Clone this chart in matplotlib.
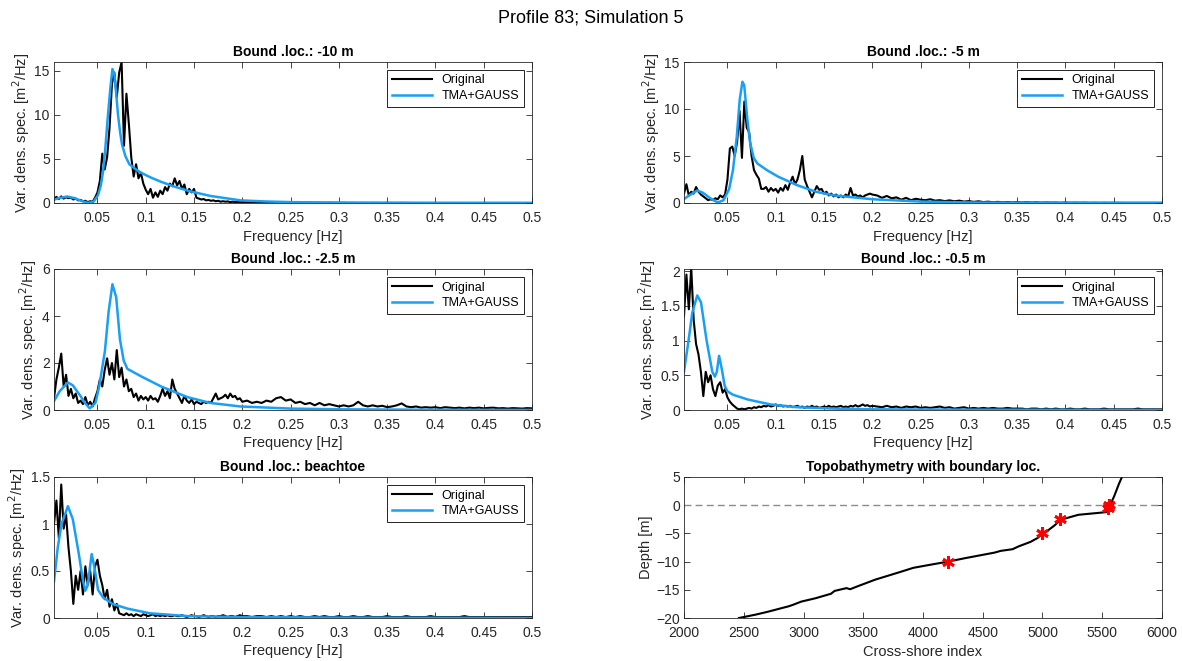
import numpy as np
import matplotlib
matplotlib.use("Agg")
import matplotlib.pyplot as plt
from matplotlib.ticker import FormatStrFormatter

plt.rcParams['font.family'] = ['Liberation Sans', 'DejaVu Sans']

# frequency grid of the measured spectra (fine up to 0.2 Hz, coarser tail)
freq_fine = np.round(np.arange(0.005, 0.20001, 0.0025), 4)
freq_tail = np.round(np.arange(0.205, 0.50001, 0.005), 3)
freq_orig = np.concatenate([freq_fine, freq_tail])

# ---- Bound .loc.: -10 m
orig_10 = [0.4, 0.7, 0.45, 0.75, 0.5, 0.65, 0.55, 0.6, 0.4, 0.5,
           0.3, 0.35, 0.2, 0.25, 0.1, 0.2, 0.15, 0.6, 1.2, 2.5,
           5.6, 3.8, 5.2, 8.5, 13.5, 14.8, 12.0, 14.8, 16.0, 6.5,
           12.4, 9.0, 5.2, 3.0, 4.4, 2.8, 3.4, 2.2, 1.5, 1.0,
           1.6, 0.6, 1.2, 0.7, 1.4, 1.0, 1.8, 1.4, 2.2, 1.9,
           2.8, 2.0, 2.5, 1.6, 2.1, 1.0, 1.6, 1.2, 1.6, 0.6,
           0.5, 0.4, 0.45, 0.3, 0.35, 0.25, 0.3, 0.2, 0.25, 0.15,
           0.2, 0.15, 0.18, 0.1, 0.15, 0.1, 0.12, 0.08, 0.1,
           0.08, 0.06, 0.07, 0.05, 0.06, 0.04, 0.05, 0.04, 0.05, 0.03,
           0.04, 0.03, 0.04, 0.03, 0.02, 0.03, 0.02, 0.03, 0.02, 0.02,
           0.03, 0.01, 0.02, 0.01, 0.02, 0.01, 0.02, 0.01, 0.01, 0.02,
           0.01, 0.01, 0.02, 0.01, 0.01, 0.01, 0.02, 0.01, 0.01, 0.01,
           0.01, 0.01, 0.01, 0.02, 0.01, 0.01, 0.01, 0.01, 0.01, 0.01,
           0.01, 0.01, 0.01, 0.01, 0.01, 0.01, 0.01, 0.01, 0.01, 0.01]
fit_f_10 = [0.005, 0.01, 0.0187, 0.026, 0.033, 0.040, 0.046, 0.0506, 0.0535, 0.0557,
            0.058, 0.0605, 0.0635, 0.0655, 0.0675, 0.0695, 0.0713, 0.0735, 0.0755, 0.079,
            0.083, 0.09, 0.0959, 0.105, 0.116, 0.13, 0.145, 0.167, 0.198, 0.225,
            0.25, 0.3, 0.35, 0.4, 0.45, 0.5]
fit_s_10 = [0.37, 0.55, 0.74, 0.56, 0.25, 0.02, 0.15, 0.9, 2.0, 3.5,
            6.0, 9.5, 13.2, 15.2, 14.6, 12.3, 10.0, 8.0, 6.6, 5.3,
            4.4, 3.8, 3.4, 2.9, 2.4, 1.85, 1.35, 0.8, 0.3, 0.17,
            0.1, 0.04, 0.02, 0.01, 0.005, 0.003]

# ---- Bound .loc.: -5 m
orig_5 = [1.0, 2.0, 0.8, 1.2, 1.0, 1.7, 1.2, 0.9, 0.7, 0.5,
          0.3, 0.4, 0.3, 0.5, 0.4, 0.8, 0.6, 0.9, 2.5, 5.8,
          6.0, 5.0, 6.5, 9.8, 4.8, 10.8, 8.0, 7.5, 5.0, 3.5,
          3.0, 2.6, 1.5, 1.5, 1.7, 1.2, 1.6, 1.3, 1.5, 1.1,
          1.6, 1.3, 1.9, 1.4, 2.2, 2.8, 2.0, 2.5, 3.5, 5.0,
          2.5, 1.8, 1.2, 0.6, 1.2, 1.8, 1.4, 1.5, 1.0, 1.2,
          0.8, 1.0, 0.7, 0.9, 0.6, 0.8, 0.6, 0.9, 0.7, 1.6,
          0.8, 0.9, 0.7, 0.8, 0.6, 0.8, 0.9, 1.0, 0.9,
          0.8, 0.55, 0.75, 0.5, 0.6, 0.35, 0.55, 0.3, 0.45, 0.35,
          0.3, 0.4, 0.25, 0.3, 0.2, 0.28, 0.18, 0.25, 0.15, 0.2,
          0.12, 0.18, 0.1, 0.14, 0.08, 0.12, 0.07, 0.1, 0.06, 0.09,
          0.05, 0.08, 0.05, 0.07, 0.04, 0.06, 0.04, 0.05, 0.03, 0.05,
          0.03, 0.04, 0.03, 0.04, 0.02, 0.03, 0.02, 0.03, 0.02, 0.03,
          0.02, 0.02, 0.02, 0.03, 0.02, 0.02, 0.01, 0.02, 0.01, 0.02]
fit_f_5 = [0.005, 0.011, 0.0187, 0.0245, 0.0323, 0.040, 0.046, 0.0518, 0.0557, 0.0596,
           0.0627, 0.0655, 0.0674, 0.0705, 0.0733, 0.0772, 0.081, 0.0908, 0.1025, 0.122,
           0.1415, 0.161, 0.2, 0.25, 0.3, 0.35, 0.4, 0.5]
fit_s_5 = [0.42, 0.85, 1.33, 1.1, 0.5, 0.05, 0.3, 1.5, 3.5, 7.0,
           11.0, 12.9, 12.5, 9.0, 6.5, 4.8, 4.2, 3.5, 2.8, 1.9,
           1.2, 0.8, 0.4, 0.15, 0.06, 0.03, 0.01, 0.003]

# ---- Bound .loc.: -2.5 m
orig_25 = [0.5, 1.3, 1.8, 2.4, 1.0, 1.5, 0.6, 0.9, 0.5, 0.7,
           0.3, 0.4, 0.25, 0.55, 0.2, 0.35, 0.15, 0.5, 0.8, 1.3,
           1.0, 1.7, 2.2, 1.5, 2.0, 1.3, 2.55, 1.4, 1.8, 1.0,
           1.3, 0.8, 0.9, 0.55, 0.7, 0.4, 0.6, 0.45, 0.55, 0.4,
           0.6, 0.45, 0.5, 0.35, 0.6, 0.9, 0.6, 0.8, 0.5, 1.3,
           0.9, 0.7, 0.5, 0.3, 0.6, 0.4, 0.3, 0.45, 0.25, 0.35,
           0.3, 0.25, 0.35, 0.3, 0.35, 0.3, 0.5, 0.7, 0.45, 0.5,
           0.55, 0.65, 0.5, 0.7, 0.55, 0.6, 0.45, 0.5, 0.35,
           0.4, 0.3, 0.35, 0.3, 0.4, 0.35, 0.5, 0.55, 0.4, 0.45,
           0.3, 0.35, 0.25, 0.3, 0.2, 0.3, 0.2, 0.25, 0.2, 0.15,
           0.2, 0.15, 0.2, 0.35, 0.2, 0.15, 0.2, 0.15, 0.18, 0.12,
           0.15, 0.2, 0.28, 0.15, 0.12, 0.15, 0.1, 0.12, 0.1, 0.12,
           0.08, 0.12, 0.1, 0.08, 0.1, 0.07, 0.1, 0.08, 0.1, 0.07,
           0.09, 0.1, 0.07, 0.08, 0.06, 0.08, 0.07, 0.06, 0.08, 0.07]
fit_f_25 = [0.005, 0.0109, 0.0194, 0.0245, 0.0323, 0.037, 0.042, 0.0479, 0.0518, 0.0577,
            0.0616, 0.0655, 0.0694, 0.0733, 0.0772, 0.081, 0.0967, 0.116, 0.143, 0.167,
            0.198, 0.25, 0.3, 0.4, 0.5]
fit_s_25 = [0.38, 0.8, 1.17, 1.05, 0.6, 0.3, 0.07, 0.3, 1.0, 2.5,
            4.2, 5.35, 4.8, 3.0, 2.1, 1.75, 1.4, 1.0, 0.55, 0.3,
            0.15, 0.06, 0.03, 0.01, 0.003]

# ---- Bound .loc.: -0.5 m
orig_05 = [1.35, 1.95, 1.45, 2.05, 1.3, 0.95, 0.8, 0.55, 0.2, 0.55,
           0.4, 0.5, 0.3, 0.2, 0.35, 0.4, 0.25, 0.3, 0.18, 0.12,
           0.08, 0.05, 0.02,
           0.01, 0.02, 0.01, 0.02, 0.03, 0.02, 0.04, 0.03, 0.05, 0.04,
           0.06, 0.05, 0.07, 0.05, 0.06, 0.08, 0.06, 0.07, 0.05, 0.06,
           0.05, 0.06, 0.04, 0.05, 0.06, 0.04, 0.05, 0.03, 0.05, 0.04,
           0.06, 0.04, 0.05, 0.03, 0.04, 0.05, 0.04, 0.06, 0.04, 0.05,
           0.04, 0.05, 0.06, 0.04, 0.05, 0.04, 0.06, 0.05, 0.07, 0.05,
           0.06, 0.08, 0.06, 0.07, 0.05, 0.06,
           0.05, 0.04, 0.06, 0.04, 0.05, 0.03, 0.05, 0.04, 0.05, 0.03,
           0.04, 0.03, 0.04, 0.05, 0.03, 0.04, 0.02, 0.03, 0.04, 0.02,
           0.03, 0.02, 0.03, 0.02, 0.03, 0.02, 0.02, 0.03, 0.02, 0.02,
           0.02, 0.01, 0.02, 0.02, 0.01, 0.02, 0.01, 0.02, 0.01, 0.01,
           0.02, 0.01, 0.01, 0.02, 0.01, 0.01, 0.01, 0.02, 0.01, 0.01,
           0.01, 0.01, 0.01, 0.01, 0.02, 0.01, 0.01, 0.01, 0.01, 0.01]
fit_f_05 = [0.005, 0.0097, 0.0136, 0.0187, 0.0226, 0.0284, 0.0343, 0.037, 0.039, 0.0413,
            0.044, 0.0471, 0.0499, 0.0557, 0.0713, 0.0947, 0.122, 0.161, 0.2, 0.3, 0.5]
fit_s_05 = [0.55, 1.0, 1.4, 1.65, 1.55, 1.0, 0.55, 0.48, 0.55, 0.78,
            0.6, 0.35, 0.27, 0.22, 0.15, 0.08, 0.04, 0.02, 0.01, 0.005, 0.001]

# ---- Bound .loc.: beachtoe
orig_bt = [1.0, 1.25, 0.85, 1.42, 0.95, 1.1, 0.75, 0.5, 0.15, 0.45,
           0.3, 0.5, 0.25, 0.55, 0.35, 0.5, 0.25, 0.55, 0.62, 0.45,
           0.35, 0.2, 0.3, 0.12, 0.2, 0.08, 0.15, 0.05, 0.04,
           0.03, 0.05, 0.03, 0.04, 0.02, 0.04, 0.03, 0.02, 0.04, 0.03,
           0.02, 0.03, 0.04, 0.02, 0.03, 0.02, 0.03, 0.02, 0.03, 0.02,
           0.02, 0.03, 0.02, 0.02, 0.03, 0.02, 0.01, 0.02, 0.03, 0.02,
           0.02, 0.01, 0.02, 0.03, 0.02, 0.01, 0.02, 0.02, 0.01, 0.02,
           0.02, 0.03, 0.02, 0.01, 0.02, 0.02, 0.01, 0.02, 0.03, 0.02,
           0.02, 0.01, 0.02, 0.02, 0.01, 0.02, 0.01, 0.02, 0.01, 0.02,
           0.01, 0.02, 0.01, 0.01, 0.02, 0.01, 0.02, 0.01, 0.01, 0.02,
           0.01, 0.01, 0.02, 0.01, 0.01, 0.02, 0.01, 0.01, 0.01, 0.02,
           0.01, 0.01, 0.01, 0.02, 0.01, 0.01, 0.01, 0.01, 0.02, 0.01,
           0.01, 0.01, 0.01, 0.01, 0.01, 0.02, 0.01, 0.01, 0.01, 0.01,
           0.01, 0.01, 0.01, 0.01, 0.01, 0.01, 0.01, 0.01, 0.01, 0.01]
fit_f_bt = [0.005, 0.0089, 0.0128, 0.0194, 0.0245, 0.0304, 0.035, 0.0374, 0.04, 0.044,
            0.0467, 0.0506, 0.0557, 0.0655, 0.081, 0.1045, 0.1435, 0.2, 0.3, 0.5]
fit_s_bt = [0.39, 0.75, 1.0, 1.19, 1.05, 0.7, 0.4, 0.29, 0.35, 0.68,
            0.55, 0.3, 0.22, 0.15, 0.1, 0.05, 0.02, 0.01, 0.005, 0.001]

# ---- profile
profile_x = [2460, 2600, 2700, 2880, 2920, 2980, 3100, 3230, 3260, 3360,
             3390, 3450, 3600, 3800, 3920, 4050, 4210, 4350, 4500, 4600,
             4650, 4750, 4800, 4900, 4960, 5000, 5050, 5100, 5150, 5200,
             5250, 5300, 5400, 5500, 5545, 5555, 5570, 5600, 5640, 5665, 5680]
profile_z = [-20, -19.4, -18.9, -17.9, -17.6, -17.1, -16.5, -15.7, -15.2, -14.7,
             -14.9, -14.4, -13.2, -11.9, -11.1, -10.6, -10.0, -9.4, -8.8, -8.4,
             -8.1, -7.8, -7.3, -6.5, -5.8, -5.0, -4.4, -3.6, -2.6, -2.3,
             -2.0, -1.7, -1.5, -1.3, -1.2, -0.5, 0.2, 1.6, 3.8, 5.0, 5.7]
bound_x = [4210, 5000, 5150, 5550, 5560]
bound_z = [-10, -5, -2.5, -0.5, 0]

panels = [
    ("Bound .loc.: -10 m", orig_10, fit_f_10, fit_s_10, 16, [0, 5, 10, 15]),
    ("Bound .loc.: -5 m", orig_5, fit_f_5, fit_s_5, 15, [0, 5, 10, 15]),
    ("Bound .loc.: -2.5 m", orig_25, fit_f_25, fit_s_25, 6, [0, 2, 4, 6]),
    ("Bound .loc.: -0.5 m", orig_05, fit_f_05, fit_s_05, 2.03, [0, 0.5, 1, 1.5, 2]),
    ("Bound .loc.: beachtoe", orig_bt, fit_f_bt, fit_s_bt, 1.5, [0, 0.5, 1, 1.5]),
]

W, H = 1182, 661
col_x = [54 / W, 684 / W]
row_y = [1 - 203 / H, 1 - 410 / H, 1 - 618 / H]
aw, ah = 478 / W, 141 / H

axcol = '#262626'
blue = '#1a9ff5'

fig = plt.figure(figsize=(W / 100, H / 100), dpi=100)
fig.suptitle("Profile 83; Simulation 5", fontsize=13, y=0.985)


def style(ax):
    ax.tick_params(direction='in', top=True, right=True, length=4, width=0.6,
                   labelsize=10, colors=axcol, labelcolor=axcol, pad=3)
    ax.tick_params(axis='x', pad=6)
    for s in ax.spines.values():
        s.set_color(axcol)
        s.set_linewidth(0.6)


for i, (title, orig, ff, fs, ytop, yt) in enumerate(panels):
    ax = fig.add_axes([col_x[i % 2], row_y[i // 2], aw, ah])
    ax.plot(freq_orig, orig, color='black', lw=1.5, label='Original')
    ax.plot(ff, fs, color=blue, lw=1.8, label='TMA+GAUSS')
    ax.set_xlim(0.005, 0.5)
    ax.set_ylim(0, ytop)
    ax.set_xticks(np.round(np.arange(0.05, 0.501, 0.05), 2))
    ax.xaxis.set_major_formatter(FormatStrFormatter('%g'))
    ax.set_yticks(yt)
    ax.yaxis.set_major_formatter(FormatStrFormatter('%g'))
    ax.set_title(title, fontsize=10, fontweight='bold', pad=4)
    ax.set_xlabel('Frequency [Hz]', fontsize=10.5, color=axcol, labelpad=3)
    ax.set_ylabel('Var. dens. spec. [m$^2$/Hz]', fontsize=10.5, color=axcol, labelpad=2)
    leg = ax.legend(loc='upper right', fontsize=9, handlelength=3.2, fancybox=False,
                    borderaxespad=0.6, framealpha=1, borderpad=0.4, labelspacing=0.3)
    leg.get_frame().set_edgecolor('black')
    leg.get_frame().set_linewidth(0.6)
    style(ax)

ax = fig.add_axes([col_x[1], row_y[2], aw, ah])
ax.axhline(0, color='#8c8c8c', lw=1.0, ls=(0, (5, 3)))
ax.plot(profile_x, profile_z, color='black', lw=1.5)
ax.plot(bound_x, bound_z, ls='none', marker=(6, 2, 0), color='red', ms=9, mew=2)
ax.set_xlim(2000, 6000)
ax.set_ylim(-20, 5)
ax.set_xticks(range(2000, 6001, 500))
ax.set_yticks(range(-20, 6, 5))
ax.set_title('Topobathymetry with boundary loc.', fontsize=10, fontweight='bold', pad=4)
ax.set_xlabel('Cross-shore index', fontsize=10.5, color=axcol, labelpad=3)
ax.set_ylabel('Depth [m]', fontsize=10.5, color=axcol, labelpad=2)
style(ax)

fig.savefig('out.png', dpi=100)
